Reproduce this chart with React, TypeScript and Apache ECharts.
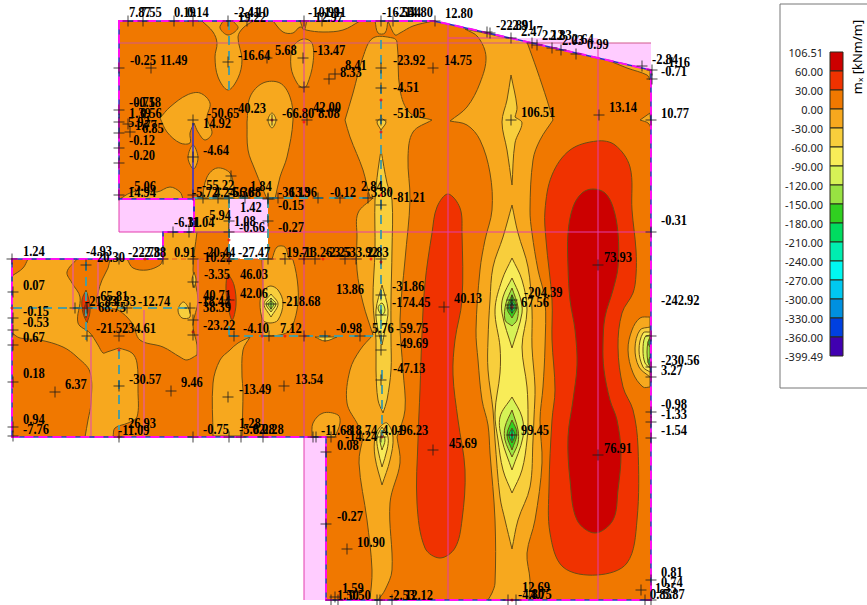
import React, { useEffect, useRef } from "react";
import * as echarts from "echarts";

type P = number[];

const levelColors = ["#CC0000","#F03200","#F07800","#F7A81E","#F8CE3C","#F8EC58","#D6F256","#98E242","#30D020","#00DC60","#00EEB0","#00F8F0","#00C8F0","#0090E0","#0040E0","#4000B0"];
const legendTicks = ["106.51","60.00","30.00","0.00","-30.00","-60.00","-90.00","-120.00","-150.00","-180.00","-210.00","-240.00","-270.00","-300.00","-330.00","-360.00","-399.49"];

const slabOutline: P[] = [[119,21],[433,21],[448,24],[598,58],[651,70],[651,600],[326,600],[326,437],[12,437],[12,259],[163,259],[163,232],[194,232],[194,199],[119,199]];

const pinkRegions: P[][] = [
  [[119,199],[194,199],[194,232],[119,232]],
  [[229,199],[268,199],[268,232],[229,232]],
  [[304,437],[326,437],[326,600],[304,600]],
  [[505,38],[598,38],[598,43],[651,43],[651,70],[598,58]],
];
const whiteRegions: P[][] = [[[229,232],[268,232],[268,259],[229,259]]];

// [colour level, outline]; a third value of 1 marks a sharp corner
const layers: [number, P[]][] = [
  // top block
  [3,[[202,21,1],[213,32],[217,43],[215,57],[218,77],[228,90],[238,78],[242,60],[238,37],[243,28],[253,21,1]]],
  [2,[[223,21,1],[220,28],[228,35],[238,28],[233,21,1]]],
  [3,[[273,21,1],[283,32],[293,33],[300,27],[306,30],[323,32],[343,30],[360,21,1]]],
  [2,[[300,21,1],[304,30],[307,21,1]]],
  [3,[[303,39],[312,43],[313,63],[307,85],[303,88],[297,83],[291,67],[293,47]]],
  [3,[[160,118,1],[170,107],[187,95],[200,93],[210,103],[207,118],[212,133],[205,140],[198,132],[194,123,1],[190,133],[190,143],[180,143],[167,132]]],
  [3,[[193,145],[198,157],[195,168],[192,168],[188,157]]],
  [3,[[247,122,1],[250,97],[263,83],[280,83],[290,97],[293,120],[287,157],[280,177],[275,199,1],[267,199,1],[262,187],[255,170],[248,150]]],
  [4,[[272,113],[276,120],[272,128],[268,120]]],
  [3,[[120,199,1],[130,193],[143,190],[157,192],[170,187],[180,192],[183,199,1]]],
  [3,[[202,199,1],[207,177],[217,168],[230,173],[235,190],[240,199,1]]],
  [3,[[388,21,1],[395,35],[400,33],[413,26],[433,21,1]]],
  [3,[[375,21,1],[378,33],[385,33],[388,21,1]]],
  // central strip
  [3,[[373,38],[363,57],[353,93],[345,120,1],[350,137],[363,170],[370,197],[373,198,1],[358,213],[357,237],[357,270],[363,303],[373,335,1],[360,350],[350,370],[347,403],[358,425],[363,437,1],[359,463],[367,520],[372,570],[370,600,1],[378,600,1],[385,590],[392,570],[390,503],[400,463],[397,437,1],[405,410],[403,370],[400,320],[405,260],[410,200],[408,157],[413,132],[432,120,1],[410,113],[400,90],[397,42],[393,38]]],
  [4,[[381,150,1],[387,183],[392,200],[392,250],[391,300],[391,340],[391,370],[387,400],[383,413,1],[378,400],[376,370],[376,340],[373,300],[375,250],[375,200],[378,170]]],
  [5,[[382,285,1],[388,310],[385,330],[382,345,1],[378,330],[376,310]]],
  [6,[[382,303],[385,310],[382,315],[378,308]]],
  [4,[[381,118,1],[386,122],[381,130,1],[377,122]]],
  [4,[[380,427],[375,437],[375,457],[382,485,1],[390,460],[393,437],[387,423]]],
  [5,[[382,427,1],[377,437],[378,450],[382,467,1],[387,450],[388,437]]],
  [6,[[382,433,1],[380,440],[382,450,1],[385,440]]],
  [3,[[312,437,1],[313,423],[323,413],[338,415],[340,423],[335,437,1]]],
  // right strip
  [3,[[465,29,1],[527,42,1],[537,70],[547,100],[553,120,1],[540,140],[533,160],[530,210],[532,233],[538,270],[545,300],[545,347],[543,387],[540,420],[542,463],[535,520],[527,553],[530,580],[529,600,1],[488,600,1],[492,593],[495,583],[495,520],[490,453],[488,425],[482,400],[478,360],[476,330],[480,270],[485,240],[492,210],[490,173],[480,140],[467,125],[450,121,1],[467,107],[480,83],[486,57],[478,37]]],
  [4,[[511,75,1],[517,107],[515,117,1],[522,123],[515,143],[512,185,1],[507,150],[502,122],[507,100]]],
  [4,[[512,205,1],[518,233],[528,267],[532,310],[532,347],[535,387],[534,417],[533,440],[530,487],[518,520],[512,549,1],[505,520],[500,497],[495,440],[493,410],[488,370],[488,340],[490,300],[493,267],[503,237]]],
  [5,[[512,258,1],[522,280],[527,310],[522,347],[527,387],[528,417],[527,440],[522,470],[512,493,1],[503,470],[498,440],[495,413],[500,373],[500,347],[495,310],[502,280]]],
  [6,[[512,278,1],[520,297],[522,313],[512,348,1],[502,313],[503,297]]],
  [7,[[512,288,1],[518,307],[517,320],[512,326,1],[505,320],[506,303]]],
  [8,[[512,295,1],[517,307],[512,318,1],[507,308]]],
  [9,[[512,300,1],[516,307],[512,313,1],[508,307]]],
  [10,[[512,303,1],[514,307],[512,310,1],[510,307]]],
  [6,[[512,397,1],[522,417],[523,437],[512,470,1],[502,440],[500,417]]],
  [7,[[512,410,1],[518,430],[518,443],[512,457,1],[505,440],[505,427]]],
  [8,[[512,420,1],[517,433],[512,450,1],[507,435]]],
  [9,[[512,428,1],[515,435],[512,443,1],[509,435]]],
  // red lobes
  [1,[[448,194],[460,208],[462,233],[462,300],[455,340],[453,375],[458,420],[465,470],[462,520],[455,548],[440,558],[425,548],[417,503],[418,440],[420,390],[422,333],[425,283],[432,233],[437,207]]],
  [1,[[597,141],[615,145],[630,167],[632,210],[636,250],[636,275],[633,293],[622,313],[618,347],[623,387],[633,410],[638,447],[637,520],[627,563],[597,575],[563,567],[550,533],[549,487],[552,420],[555,390],[552,340],[552,300],[546,240],[545,210],[552,175],[570,150]]],
  [0,[[593,189],[605,193],[613,207],[618,233],[618,267],[613,290],[605,317],[603,345],[604,370],[610,400],[617,420],[621,453],[618,490],[613,520],[595,533],[577,520],[570,480],[568,437],[573,400],[577,365],[575,330],[570,300],[568,267],[568,233],[573,207],[582,193]]],
  // right edge
  [3,[[650,317,1],[640,318],[632,330],[628,350],[633,373],[643,387],[650,387,1]]],
  [4,[[650,327,1],[640,330],[635,348],[639,367],[650,377,1]]],
  [5,[[650,332,1],[643,333],[639,350],[643,367],[650,372,1]]],
  [6,[[650,335,1],[645,337],[643,350],[645,363],[650,368,1]]],
  [7,[[650,337,1],[648,342],[647,352],[648,362],[650,367,1]]],
  [9,[[650,338,1],[648,343],[650,347,1]]],
  [9,[[650,357,1],[648,362],[650,366,1]]],
  [3,[[650,113,1],[640,120,1],[648,123],[651,128,1]]],
  [3,[[605,59,1],[650,70,1],[650,80,1],[647,75],[627,68]]],
  // left block
  [3,[[12,276,1],[23,268],[28,259,1],[77,259,1],[67,272],[72,283],[80,297],[78,323],[90,333],[98,345],[103,353],[107,352],[119,348,1],[132,353],[137,363],[138,390],[137,417],[128,423],[115,428],[113,437,1],[85,437,1],[88,420],[91,403],[90,372],[77,357],[63,347],[40,340],[20,338],[12,333,1]]],
  [3,[[110,259,1],[108,268],[102,280],[98,293],[97,303],[105,308],[118,310],[132,323],[140,340],[163,347],[180,357],[187,360],[197,355,1],[197,345],[193,325],[198,300],[193,270],[197,232,1],[163,232,1],[163,259,1]]],
  [3,[[194,199,1],[229,199,1],[229,232,1],[194,232,1]]],
  [2,[[127,259,1],[133,268],[147,270],[160,265],[163,259,1]]],
  [3,[[230,350],[238,343],[250,337,1],[243,350],[242,377],[243,390],[242,436,1],[213,436,1],[213,383],[220,360]]],
  [3,[[262,259,1],[272,259,1],[277,247],[285,247],[289,258],[293,260],[298,287],[297,310],[290,330],[280,335],[263,336,1],[262,320],[263,287]]],
  [4,[[270,286],[278,290],[283,303],[278,320],[270,323],[263,320],[260,303],[263,292]]],
  [5,[[271,294,1],[278,304],[271,317,1],[264,304]]],
  [6,[[271,298,1],[276,304],[271,312,1],[266,304]]],
  [7,[[271,301,1],[274,304],[271,309,1],[268,304]]],
  [4,[[315,337,1],[325,341],[337,337,1]]],
  [1,[[228,275],[234,285],[236,305],[232,320],[227,300],[226,285]]],
  [1,[[86,290,1],[89,300],[90,312],[87,323,1],[83,313],[82,300]]],
  [0,[[86,302,1],[88,310],[86,318,1],[84,310]]],
  [4,[[183,302],[188,307],[190,317],[182,318],[178,310]]],
  [4,[[194,272,1],[196,280],[194,288,1],[192,280]]],
];

const mainLines: P[][] = [
  [[448,38],[510,38]],[[119,232],[651,232]],
  [[304,21],[304,600]],[[448,24],[448,600]],[[598,43],[598,600]],
  [[119,199],[119,232]],
];
const faintLines: P[][] = [[[119,43],[651,43]]];
const paleLines: P[][] = [
  [[73,259],[73,310]],[[98,259],[98,310]],
  [[91,337],[91,437]],[[144,310],[144,437]],[[198,259],[198,437]],[[263,259],[263,437]],
];
const tealLines: P[][] = [
  [[13,308],[190,308]],[[229,336],[373,336]],[[194,198],[370,198]],
  [[119,350],[119,430]],[[229,21],[229,90]],[[381,40],[381,190]],[[381,200],[381,345]],[[382,370],[382,437]],
  [[86,262],[86,340]],[[229,199],[229,259]],[[268,199],[268,259]],[[229,259],[268,259]],[[229,326],[229,336]],
];
const blueLines: P[][] = [[[193,123],[193,199]],[[194,199],[194,232]]];
const redLines: P[][] = [[[163,259],[362,259]]];

const markers: P[] = [
  [128,21],[143,21],[174,21],[193,21],[228,21],[247,21],[304,21],[322,21],[381,21],[393,21],[435,21],[487,32],[490,33],[511,38],[532,43],[537,45],[552,48],[561,50],[576,54],[642,66],[652,70],[652,79],
  [119,68],[151,68],[228,62],[267,58],[303,58],[329,79],[335,74],[381,68],[381,88],[433,68],[511,120],[599,115],[651,120],[651,232],
  [119,110],[119,122],[119,133],[119,148],[119,163],[128,124],[130,132],[193,120],[193,157],[272,120],[304,87],[307,120],[381,120],
  [119,195],[193,195],[203,198],[218,198],[229,198],[245,198],[268,198],[278,198],[318,198],[340,198],[368,198],[381,205],[231,176],[229,221],[268,221],[268,199],[173,232],[189,232],[229,232],
  [12,259],[86,265],[119,259],[163,259],[193,259],[229,259],[268,259],[285,259],[304,259],[315,259],[345,259],[356,259],[381,259],[444,307],[598,265],
  [13,292],[13,318],[13,330],[13,345],[75,308],[87,308],[127,308],[190,308],[193,282],[193,320],[229,300],[271,304],[381,315],[381,295],[511,305],[512,300],[512,308],
  [87,336],[119,336],[193,335],[234,336],[269,336],[304,336],[325,336],[360,336],[381,336],[381,350],[381,380],
  [13,382],[55,392],[119,386],[171,391],[228,397],[284,386],[433,450],[512,435],[598,455],
  [13,427],[13,436],[119,437],[193,437],[229,437],[241,437],[263,437],[313,437],[316,437],[331,437],[326,452],[381,437],[326,524],[347,549],
  [651,336],[651,367],[651,377],[651,412],[651,422],[651,438],[651,580],[651,600],[641,590],[335,597],[331,600],[338,600],[377,600],[380,600],[392,600],[508,600],[516,600],[645,600],
];
const redPoints: P[] = [[381,100],[381,132],[304,122],[193,196],[229,240],[229,259],[145,259],[304,259],[323,259],[371,259],[381,262],[119,350],[193,332],[262,336],[285,336],[305,336],[86,308],[381,195],[304,110],[12,308],[512,307],[512,435],[382,437],[119,437],[512,600],[272,120]];

// text, left edge, vertical centre
const labels: [string, number, number][] = [
  ["7.87",129,12],["7.55",140,12],["0.19",174,12],["0.14",187,12],["-2.41",234,12],["-4.10",243,12],["19.22",238,17],["-10.91",308,12],["-1.91",320,12],["12.97",315,17],["-16.54",382,12],["-2.54",395,12],["14.80",405,12],["12.80",445,13],
  ["-22.89",496,25],["-2.91",508,25],["2.47",521,31],["2.12",542,35],["2.83",550,35],["2.03",562,40],["2.64",572,39],["0.99",587,44],["-2.84",652,59],["-1.16",664,62],["-0.71",661,71],["10.77",661,113],
  ["-0.25",130,60],["11.49",160,60],["-16.64",238,55],["5.68",275,50],["-13.47",313,50],["8.41",345,65],["8.33",340,72],["-23.92",393,60],["14.75",444,60],["-4.51",393,87],
  ["-0.75",129,102],["-0.18",135,102],["1.39",129,113],["0.56",140,113],["5.92",128,122],["1.77",135,125],["6.85",142,128],["-0.12",129,140],["-0.20",129,155],["-50.65",207,113],["14.92",203,123],["40.23",238,108],["-66.80",282,113],["42.00",313,107],["8.08",318,113],["-51.05",393,113],["-4.64",203,150],["106.51",521,112],["13.14",609,107],
  ["-5.06",130,186],["14.94",128,192],["-55.22",202,185],["-5.72",192,192],["4.24",214,192],["-6.36",228,192],["56.88",233,192],["1.84",250,186],["-36.13",278,192],["13.96",289,192],["-0.12",330,192],["2.84",361,186],["3.80",371,192],["-81.21",393,197],
  ["1.42",240,207],["-0.15",278,205],["-6.31",174,222],["11.04",187,222],["-5.94",205,215],["1.08",234,221],["-0.66",239,227],["-0.27",278,227],["-0.31",661,220],
  ["1.24",23,251],["-4.93",86,251],["20.30",97,257],["-22.78",128,252],["-2.38",140,252],["0.91",174,252],["-20.44",203,252],["10.22",204,257],["-27.47",238,252],["-19.71",282,252],["-13.26",300,252],["-2.25",325,252],["3.53",334,252],["3.92",356,252],["2.83",367,252],
  ["0.07",23,285],["-3.35",204,274],["46.03",240,274],["42.06",240,293],["13.86",336,289],["-31.86",392,286],["40.13",454,298],["-204.39",524,292],["67.56",521,302],["73.93",604,257],
  ["-65.81",96,296],["-21.83",85,301],["-1.33",110,301],["-12.74",138,301],["68.75",98,307],["-0.15",23,311],["-0.53",23,322],["0.67",23,337],["-21.52",96,328],["34.61",128,328],["-218.68",282,301],["-174.45",392,302],
  ["40.71",203,295],["-18.44",198,301],["38.39",203,307],["-23.22",203,325],["-4.10",243,328],["7.12",280,328],["-0.98",336,328],["5.76",372,328],["-59.75",396,328],["-49.69",396,343],["-47.13",393,368],
  ["0.18",23,373],["6.37",65,384],["-30.57",129,379],["9.46",181,382],["-13.49",239,389],["13.54",295,379],
  ["0.94",23,419],["-7.76",23,429],["26.93",128,423],["-11.09",118,430],["-0.75",203,429],["1.28",239,423],["-5.02",239,429],["8.28",253,429],["0.28",262,429],
  ["-11.68",321,430],["-18.74",345,430],["-14.24",345,436],["4.01",382,430],["-96.23",396,430],["0.08",337,445],["45.69",449,443],["99.45",521,430],["76.91",604,448],
  ["-0.27",337,516],["10.90",357,542],["1.59",342,588],["1.50",337,595],["0.50",349,595],["-2.53",389,595],["12.12",405,595],["12.69",522,587],["-4.80",518,594],["4.75",530,594],
  ["0.81",661,572],["0.74",661,582],["1.35",655,588],["0.85",650,594],["5.87",663,594],["-242.92",661,300],["-230.56",661,360],["3.27",661,370],["-0.98",661,404],["-1.33",661,414],["-1.54",661,430],
];

const contourStroke = "#6A4E14";

function linesSeries(list: P[][], color: string, width: number, dash?: number[]) {
  return {
    type: "custom", coordinateSystem: "cartesian2d", xAxisIndex: 0, yAxisIndex: 0, silent: true,
    data: list.map((_, i) => [i]),
    renderItem: (params: any, api: any) => {
      const [a, b] = list[params.dataIndex];
      const p = api.coord(a), q = api.coord(b);
      return { type: "line", shape: { x1: p[0], y1: p[1], x2: q[0], y2: q[1] }, style: { stroke: color, lineWidth: width, lineDash: dash, fill: "none" } };
    },
  };
}

function fillSeries(list: P[][], color: string) {
  return {
    type: "custom", coordinateSystem: "cartesian2d", xAxisIndex: 0, yAxisIndex: 0, silent: true,
    data: list.map((_, i) => [i]),
    renderItem: (params: any, api: any) => ({
      type: "polygon",
      shape: { points: list[params.dataIndex].map((p) => api.coord(p)) },
      style: { fill: color },
    }),
  };
}

function outlineSeries(color: string, width: number, dash?: number[]) {
  return {
    type: "custom", coordinateSystem: "cartesian2d", xAxisIndex: 0, yAxisIndex: 0, silent: true,
    data: [[0]],
    renderItem: (_: any, api: any) => ({
      type: "polygon",
      shape: { points: slabOutline.map((p) => api.coord(p)) },
      style: { fill: "none", stroke: color, lineWidth: width, lineDash: dash },
    }),
  };
}

export default function App() {
  const ref = useRef<HTMLDivElement>(null);
  useEffect(() => {
    const chart = echarts.init(ref.current!, undefined, { renderer: "svg" });
    chart.setOption({
      animation: false,
      backgroundColor: "#fff",
      grid: [
        { left: 0, top: 0, width: 867, height: 605 },
        { left: 830, top: 52, width: 13, height: 304 },
      ],
      xAxis: [
        { type: "value", min: 0, max: 867, show: false, gridIndex: 0 },
        { type: "value", min: 0, max: 1, show: false, gridIndex: 1 },
      ],
      yAxis: [
        { type: "value", min: 0, max: 605, inverse: true, show: false, gridIndex: 0 },
        {
          type: "value", min: 0, max: 16, interval: 1, gridIndex: 1,
          axisLine: { show: false }, axisTick: { show: false }, splitLine: { show: false },
          axisLabel: {
            margin: 7, fontSize: 11, fontFamily: "Noto Sans", color: "#222",
            formatter: (v: number) => legendTicks[16 - v],
          },
        },
      ],
      graphic: [
        { type: "rect", shape: { x: 780, y: 4, width: 110, height: 384 }, style: { fill: "none", stroke: "#777", lineWidth: 1 }, z: 0 },
        { type: "text", x: 857, y: 57, rotation: Math.PI / 2, style: { text: "mₓ [kNm/m]", font: '13px "Noto Sans", "DejaVu Sans"', fill: "#000", textAlign: "center", textVerticalAlign: "middle" } },
      ],
      series: [
        {
          type: "custom", coordinateSystem: "cartesian2d", xAxisIndex: 0, yAxisIndex: 0, silent: true,
          data: [[0]],
          renderItem: (_: any, api: any) => ({
            type: "polygon",
            shape: { points: slabOutline.map((p) => api.coord(p)) },
            style: { fill: levelColors[2] },
          }),
        },
        {
          type: "custom", coordinateSystem: "cartesian2d", xAxisIndex: 0, yAxisIndex: 0, silent: true,
          data: layers.map((_, i) => [i]),
          renderItem: (params: any, api: any) => {
            const [level, pts] = layers[params.dataIndex];
            const points: number[][] = [];
            pts.forEach((p) => {
              const c = api.coord([p[0], p[1]]);
              points.push(c);
              if (p[2]) points.push(c.slice());
            });
            return { type: "polygon", shape: { points, smooth: 0.35 }, style: { fill: levelColors[level], stroke: contourStroke, lineWidth: 1 } };
          },
        },
        fillSeries(pinkRegions, "#FFCCFF"),
        fillSeries(whiteRegions, "#FFFFFF"),
        linesSeries(faintLines, "#D0588C", 1),
        linesSeries(mainLines, "#E23CAC", 1),
        linesSeries(paleLines, "#E8608C", 1.4),
        linesSeries(redLines, "#E8502A", 1, [5, 4]),
        linesSeries(blueLines, "#3030D8", 1.5),
        linesSeries(tealLines, "#4E9C9C", 2, [9, 6]),
        outlineSeries("#2A30D0", 1.5),
        outlineSeries("#FF10F0", 2, [9, 5]),
        {
          type: "scatter", xAxisIndex: 0, yAxisIndex: 0, silent: true,
          data: redPoints, symbol: "circle", symbolSize: 3, itemStyle: { color: "#F01010" },
        },
        {
          type: "scatter", xAxisIndex: 0, yAxisIndex: 0, silent: true,
          data: markers, symbol: "path://M0 5H10M5 0V10", symbolSize: 11,
          itemStyle: { color: "transparent", borderColor: "#1a1a1a", borderWidth: 1 },
        },
        {
          type: "custom", coordinateSystem: "cartesian2d", xAxisIndex: 0, yAxisIndex: 0, silent: true,
          data: labels.map((_, i) => [i]),
          renderItem: (params: any, api: any) => {
            const [text, x, y] = labels[params.dataIndex];
            const c = api.coord([x, y]);
            return { type: "text", x: c[0], y: c[1], scaleY: 1.15, style: { text, font: 'bold 12.5px "Liberation Serif"', fill: "#000", textAlign: "left", textVerticalAlign: "middle" } };
          },
        },
        {
          type: "custom", coordinateSystem: "cartesian2d", xAxisIndex: 1, yAxisIndex: 1, silent: true,
          data: levelColors.map((_, i) => [i]),
          renderItem: (params: any, api: any) => {
            const i = params.dataIndex;
            const a = api.coord([0, 16 - i]), b = api.coord([1, 15 - i]);
            return { type: "rect", shape: { x: a[0], y: a[1], width: b[0] - a[0], height: b[1] - a[1] }, style: { fill: levelColors[i], stroke: "#2a2a1a", lineWidth: 1 } };
          },
        },
      ],
    });
    return () => chart.dispose();
  }, []);
  return <div ref={ref} style={{ position: "absolute", left: 0, top: 0, width: 867, height: 605 }} />;
}
